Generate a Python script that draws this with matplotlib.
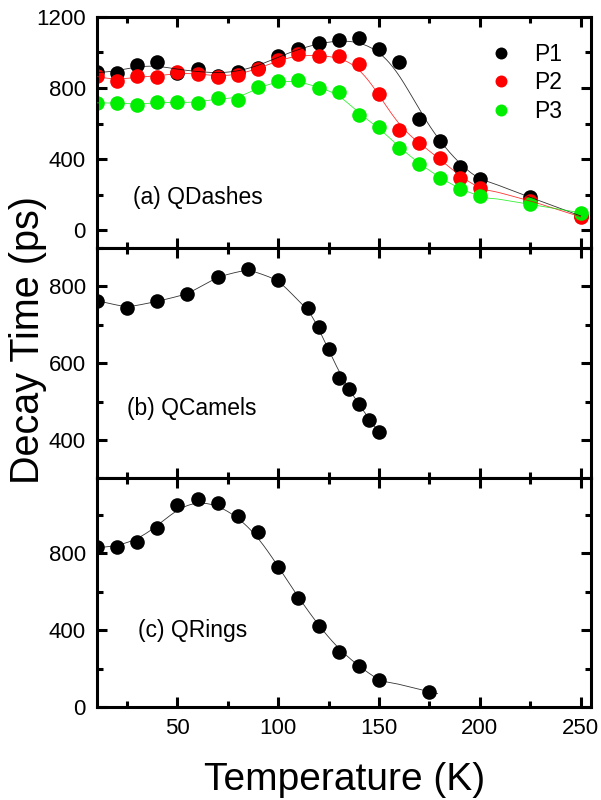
import numpy as np
import matplotlib
matplotlib.use("Agg")
import matplotlib.pyplot as plt
from matplotlib.ticker import MultipleLocator

plt.rcParams['font.family'] = ['Liberation Sans', 'DejaVu Sans']

# ---------------- data ----------------
T_a = [10, 20, 30, 40, 50, 60, 70, 80, 90, 100, 110, 120, 130, 140, 150, 160, 170, 180, 190, 200, 225, 250]
P1 = [890, 885, 927, 947, 885, 904, 868, 891, 913, 979, 1021, 1055, 1071, 1079, 1021, 947, 625, 499, 354, 288, 185, 80]
P2 = [866, 838, 866, 862, 889, 881, 862, 870, 908, 955, 992, 979, 981, 936, 768, 565, 490, 405, 296, 239, 165, 75]
P3 = [716, 716, 706, 719, 719, 716, 744, 734, 806, 838, 844, 800, 776, 650, 580, 465, 373, 296, 230, 192, 145, 98]

T_b = [10, 25, 40, 55, 70, 85, 100, 115, 120, 125, 130, 135, 140, 145, 150]
QCamels = [763, 745, 761, 780, 825, 845, 817, 744, 695, 637, 562, 532, 493, 453, 421]

T_c = [10, 20, 30, 40, 50, 60, 70, 80, 90, 100, 110, 120, 130, 140, 150, 175]
QRings = [831, 835, 861, 932, 1051, 1083, 1062, 992, 909, 727, 568, 421, 289, 213, 139, 81]

legend_labels = ['P1', 'P2', 'P3']
colors = ['black', '#ff0000', '#00ee00']


def smooth_fit(x, y, h, x_end=None):
    """Gaussian-weighted local linear regression (fit curve)."""
    x = np.asarray(x, float)
    y = np.asarray(y, float)
    xe = x.max() if x_end is None else x_end
    grid = np.linspace(x.min(), xe, 400)
    out = []
    for g in grid:
        w = np.exp(-0.5 * ((x - g) / h) ** 2)
        c = np.polyfit(x - g, y, 1, w=np.sqrt(w))
        out.append(c[-1])
    return grid, np.array(out)


fig = plt.figure(figsize=(6.01, 8), dpi=100)
L, W = 0.161, 0.822
ax_a = fig.add_axes([L, 0.690, W, 0.289])
ax_b = fig.add_axes([L, 0.402, W, 0.288])
ax_c = fig.add_axes([L, 0.116, W, 0.286])

ms = 10.5
for ax in (ax_a, ax_b, ax_c):
    ax.set_xlim(10, 255)
    ax.xaxis.set_major_locator(MultipleLocator(50))
    ax.xaxis.set_minor_locator(MultipleLocator(25))
    for s in ax.spines.values():
        s.set_linewidth(2.2)
    ax.tick_params(which='both', direction='in', top=True, right=True,
                   width=2.2, labelsize=16, pad=8)
    ax.tick_params(which='major', length=7.5)
    ax.tick_params(which='minor', length=4.5)

line_kw = dict(lw=0.6, alpha=0.8, zorder=3)

# panel (a)
series = [P1, P2, P3]
bws = [10, 8, 7]
for vals, col, lab in zip(series, colors, legend_labels):
    ax_a.plot(T_a, vals, 'o', color=col, ms=ms, mec='none', label=lab, zorder=2)
for vals, col, h in zip(series, colors, bws):
    gx, gy = smooth_fit(T_a, vals, h)
    ax_a.plot(gx, gy, '-', color=col, **line_kw)
ax_a.set_ylim(-100, 1200)
ax_a.yaxis.set_major_locator(MultipleLocator(400))
ax_a.yaxis.set_minor_locator(MultipleLocator(200))
ax_a.tick_params(labelbottom=False)
leg = ax_a.legend(loc='upper right', bbox_to_anchor=(0.988, 0.987), frameon=False,
                  fontsize=16.5, markerscale=0.82, handletextpad=1.04,
                  labelspacing=0.25, borderaxespad=0.6, handlelength=0.8)
ax_a.text(0.073, 0.19, '(a) QDashes', transform=ax_a.transAxes, fontsize=16.5,
          va='baseline', ha='left')

# panel (b)
ax_b.plot(T_b, QCamels, 'o', color='black', ms=ms, mec='none', zorder=2)
gx, gy = smooth_fit(T_b, QCamels, 7)
ax_b.plot(gx, gy, '-', color='black', **line_kw)
ax_b.set_ylim(300, 900)
ax_b.yaxis.set_major_locator(MultipleLocator(200))
ax_b.yaxis.set_minor_locator(MultipleLocator(100))
ax_b.tick_params(labelbottom=False)
ax_b.text(0.061, 0.275, '(b) QCamels', transform=ax_b.transAxes, fontsize=16.5,
          va='baseline', ha='left')

# panel (c)
ax_c.plot(T_c, QRings, 'o', color='black', ms=ms, mec='none', zorder=2)
gx, gy = smooth_fit(T_c, QRings, 9, x_end=179)
ax_c.plot(gx, gy, '-', color='black', **line_kw)
ax_c.set_ylim(0, 1190)
ax_c.yaxis.set_major_locator(MultipleLocator(400))
ax_c.yaxis.set_minor_locator(MultipleLocator(200))
ax_c.text(0.084, 0.308, '(c) QRings', transform=ax_c.transAxes, fontsize=16.5,
          va='baseline', ha='left')

fig.text(0.574, 0.0125, 'Temperature (K)', fontsize=28, ha='center', va='baseline')
fig.text(0.046, 0.575, 'Decay Time (ps)', fontsize=28.5, ha='center', va='center',
         rotation=90)

fig.savefig('out.png', dpi=100)
